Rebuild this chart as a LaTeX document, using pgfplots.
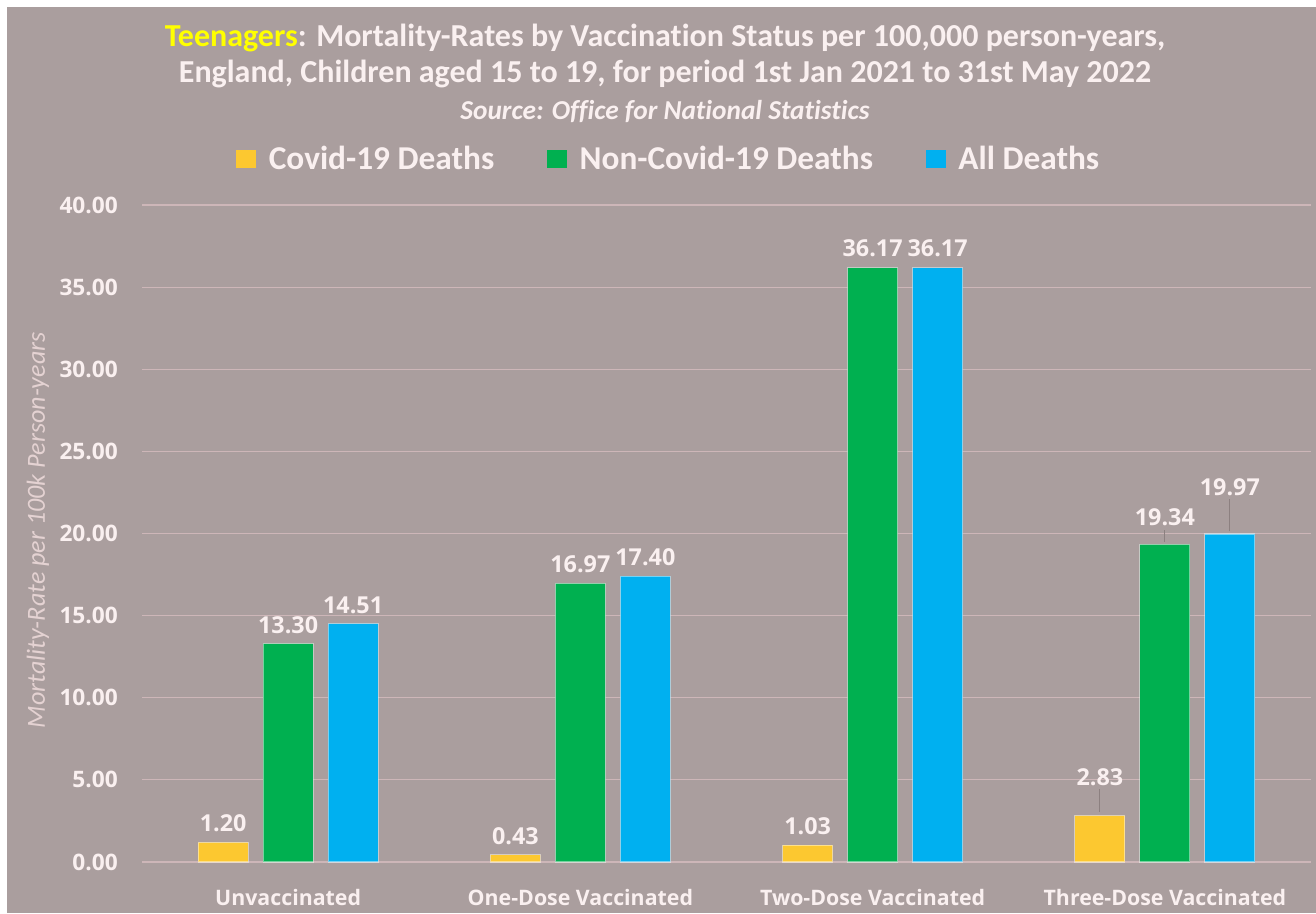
\documentclass[border=0pt]{standalone}
\usepackage{pgfplots}
\usepackage{pgfplotstable}
\pgfplotsset{compat=1.18}
\usepackage{fontspec}
\setmainfont{Carlito}[Ligatures=NoCommon]
\newfontfamily\osans{Open Sans}
\definecolor{bg}{RGB}{170,158,158}
\definecolor{txt}{RGB}{250,240,240}
\definecolor{ylab}{RGB}{228,210,210}
\definecolor{ttlyellow}{RGB}{255,255,0}
\definecolor{cyel}{RGB}{252,200,48}
\definecolor{cgrn}{RGB}{0,176,80}
\definecolor{cblu}{RGB}{0,176,240}
\definecolor{gridc}{RGB}{205,182,184}
\definecolor{leader}{RGB}{140,128,128}

\pgfplotstableread{
x y dy
0 1.20 14
1 0.43 14
2 1.03 14
3 2.83 29
}\covid
\pgfplotstableread{
x y dy
0 13.30 14
1 16.97 14
2 36.17 15
3 19.34 20
}\noncovid
\pgfplotstableread{
x y dy
0 14.51 14
1 17.40 14
2 36.17 15
3 19.97 35
}\alld

\begin{document}
\begin{tikzpicture}
\useasboundingbox (0,0) rectangle (987pt,684.75pt);
\fill[white] (0,0) rectangle (987pt,684.75pt);
\fill[bg] (5.25pt,0) rectangle (987pt,679.5pt);
\node[font=\fontsize{24}{28}\selectfont\bfseries, text=txt, anchor=base] at (498.75pt,649.5pt)
  {\textcolor{ttlyellow}{Teenagers}: Mortality-Rates by Vaccination Status per 100,000 person-years,};
\node[font=\fontsize{24}{28}\selectfont\bfseries, text=txt, anchor=base] at (498.75pt,622.5pt)
  {England, Children aged 15 to 19, for period 1st Jan 2021 to 31st May 2022};
\node[font=\fontsize{20.5}{24}\selectfont\bfseries\itshape, text=txt, anchor=base] at (498.75pt,594.75pt)
  {Source: Office for National Statistics};
\begin{axis}[
  at={(106.5pt,38.25pt)}, anchor=south west,
  scale only axis, width=876.75pt, height=492.75pt,
  xmin=-0.5, xmax=3.5, ymin=0, ymax=40,
  ybar=11.25pt, bar width=37.5pt,
  axis line style={draw=none},
  major tick length=0pt,
  xtick=data,
  xticklabels={Unvaccinated,One-Dose Vaccinated,Two-Dose Vaccinated,Three-Dose Vaccinated},
  ytick={0,5,...,40},
  ymajorgrids, grid style={gridc, line width=0.8pt},
  /pgf/number format/assume math mode=true,
  yticklabel={\pgfmathprintnumber[fixed,fixed zerofill,precision=2]{\tick}},
  yticklabel style={font=\osans\fontsize{17}{19}\selectfont\bfseries, text=txt, anchor=east, inner sep=0pt, xshift=-18pt},
  xticklabel style={font=\osans\fontsize{16}{18}\selectfont\bfseries, text=txt, anchor=base, inner sep=0pt, yshift=-32.25pt},
  ylabel={Mortality-Rate per 100k Person-years},
  every axis y label/.style={at={(axis description cs:-0.089,0.505)}, rotate=90, anchor=center,
     font=\fontsize{19.6}{22}\selectfont\itshape, text=ylab},
  nodes near coords={\pgfmathprintnumber[fixed,fixed zerofill,precision=2]{\pgfplotspointmeta}},
  visualization depends on={\thisrow{dy} \as \dy},
  every node near coord/.append style={font=\osans\fontsize{17.5}{19}\selectfont\bfseries, text=txt, anchor=center, yshift=\dy pt, inner sep=0pt},
  legend style={at={(axis description cs:0.4508,1.070)}, anchor=center, draw=none, fill=none,
    font=\fontsize{25}{29}\selectfont\bfseries, text=txt, legend columns=3,
    /tikz/every odd column/.append style={column sep=7.5pt},
    /tikz/every even column/.append style={column sep=37.5pt}},
  legend image code/.code={\fill[#1,draw=none] (0pt,-7.1pt) rectangle (15pt,7.1pt);},
  every axis plot/.append style={draw=white, draw opacity=0.45, line width=0.8pt},
]
\addplot[fill=cyel] table[x=x,y=y] {\covid};
\addplot[fill=cgrn] table[x=x,y=y] {\noncovid};
\addplot[fill=cblu] table[x=x,y=y] {\alld};
\legend{Covid-19 Deaths, Non-Covid-19 Deaths, All Deaths}
\draw[leader, line width=0.6pt] ([xshift=-48.75pt,yshift=3pt]axis cs:3,2.83) -- ([xshift=-48.75pt,yshift=20pt]axis cs:3,2.83);
\draw[leader, line width=0.6pt] ([yshift=2pt]axis cs:3,19.34) -- ([yshift=11pt]axis cs:3,19.34);
\draw[leader, line width=0.6pt] ([xshift=48.75pt,yshift=2pt]axis cs:3,19.97) -- ([xshift=48.75pt,yshift=26pt]axis cs:3,19.97);
\end{axis}
\end{tikzpicture}
\end{document}
